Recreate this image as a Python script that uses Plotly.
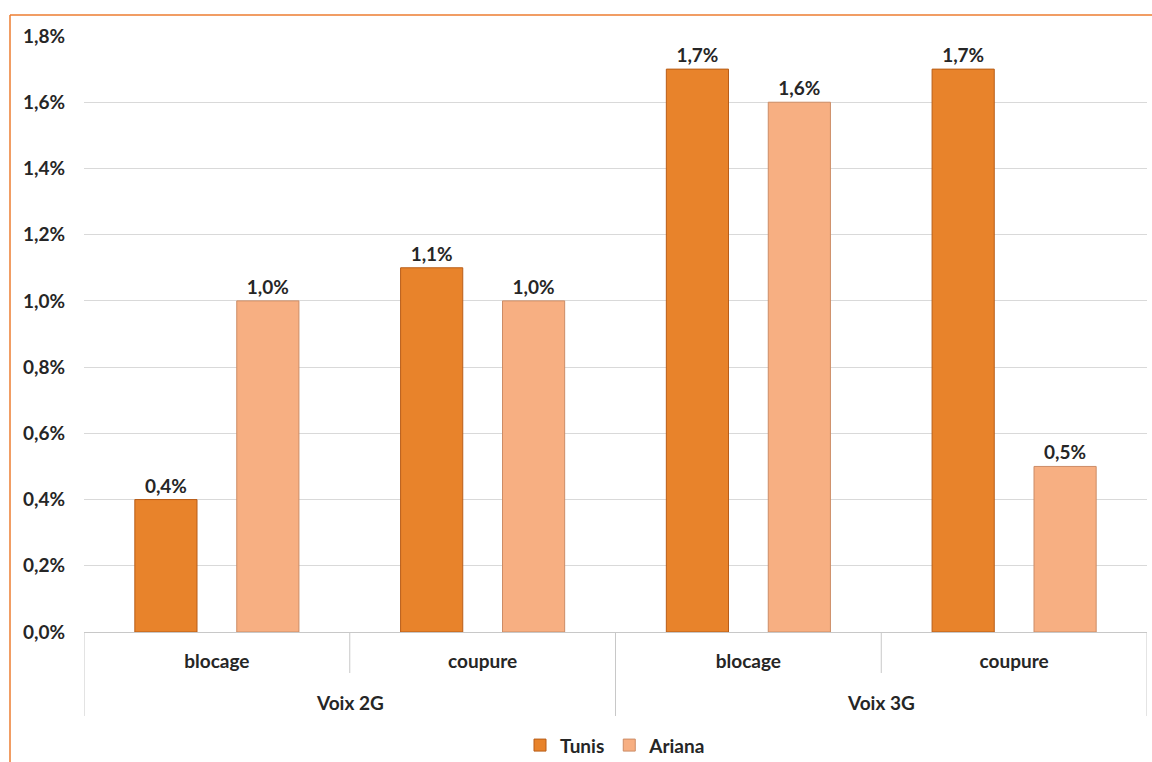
import plotly.graph_objects as go

groups = ["Voix 2G", "Voix 2G", "Voix 3G", "Voix 3G"]
kinds = ["blocage", "coupure", "blocage", "coupure"]
tunis = [0.004, 0.011, 0.017, 0.017]
ariana = [0.010, 0.010, 0.016, 0.005]
y_ticks = [0, 0.002, 0.004, 0.006, 0.008, 0.010, 0.012, 0.014, 0.016, 0.018]

FONT = "Lato"
FS = 19
TXT = "#262626"
keys = [f"{g} – {k}" for g, k in zip(groups, kinds)]

fig = go.Figure()
fig.add_trace(go.Bar(
    name="<b>Tunis</b>", x=keys, y=tunis,
    marker=dict(color="#E8832B", line=dict(color="#B85D18", width=1)),
    texttemplate="<b>%{y:.1%}</b>", textposition="outside",
    textfont=dict(family=FONT, size=FS, color=TXT), cliponaxis=False,
))
fig.add_trace(go.Bar(
    name="<b>Ariana</b>", x=keys, y=ariana,
    marker=dict(color="#F7AF82", line=dict(color="#CC8C66", width=1)),
    texttemplate="<b>%{y:.1%}</b>", textposition="outside",
    textfont=dict(family=FONT, size=FS, color=TXT), cliponaxis=False,
))

W, H = 1152, 762
L, R, T, B = 84, 5, 36, 130
pw, ph = W - L - R, H - T - B
bx = (10 - L) / pw
by = 1 + (T - 15) / ph
inner_bot = -(673 - 632) / ph
outer_bot = -(716 - 632) / ph
outer_lab = -(702 - 632) / ph

shapes = [
    dict(type="line", xref="paper", yref="paper", x0=bx, x1=1.1, y0=by, y1=by,
         line=dict(color="#ED7D31", width=1.5)),
    dict(type="line", xref="paper", yref="paper", x0=bx, x1=bx, y0=by, y1=-0.3,
         line=dict(color="#ED7D31", width=1.5)),
]
n = len(keys)
for i in range(n + 1):
    pos = i - 0.5
    is_outer = i == 0 or i == n or groups[i - 1] != groups[i]
    shapes.append(dict(type="line", xref="x", yref="paper", x0=pos, x1=pos,
                       y0=0, y1=outer_bot if is_outer else inner_bot,
                       line=dict(color="#C8C8C8", width=1)))

annotations = []
uniq = []
for g in groups:
    if g not in uniq:
        uniq.append(g)
for g in uniq:
    idx = [i for i, gg in enumerate(groups) if gg == g]
    annotations.append(dict(xref="x", yref="paper", x=(idx[0] + idx[-1]) / 2, y=outer_lab,
                            text=f"<b>{g}</b>", showarrow=False, yanchor="middle",
                            font=dict(family=FONT, size=FS, color=TXT)))

fig.update_layout(
    width=W, height=H,
    margin=dict(l=L, r=R, t=T, b=B, autoexpand=False),
    paper_bgcolor="white", plot_bgcolor="white",
    separators=",.",
    barmode="group", bargap=0.233, bargroupgap=0.39,
    font=dict(family=FONT, size=FS, color=TXT),
    showlegend=True,
    legend=dict(orientation="h", x=0.5, xanchor="center", y=-0.19, yanchor="middle",
                font=dict(family=FONT, size=FS, color=TXT), traceorder="normal",
                itemwidth=30),
    xaxis=dict(
        type="category", range=[-0.5, n - 0.5], automargin=False,
        showline=True, linecolor="#C8C8C8", linewidth=1,
        tickvals=keys, ticktext=[f"<b>{k}</b>" for k in kinds],
        ticks="", ticklabelstandoff=12, showgrid=False,
        tickfont=dict(family=FONT, size=FS, color=TXT),
    ),
    yaxis=dict(
        range=[0, 0.018], tickvals=y_ticks, tickformat=".1%", automargin=False,
        showgrid=True, gridcolor="#D9D9D9", gridwidth=1,
        zeroline=False, showline=False, ticks="", ticklabelstandoff=18,
        tickfont=dict(family=FONT, size=FS, color=TXT, weight="bold"),
    ),
    shapes=shapes,
    annotations=annotations,
)
fig.write_html(
    "out.html",
    config={"displayModeBar": False},
    post_script="document.body.style.margin='0';document.body.style.overflow='hidden';",
)
